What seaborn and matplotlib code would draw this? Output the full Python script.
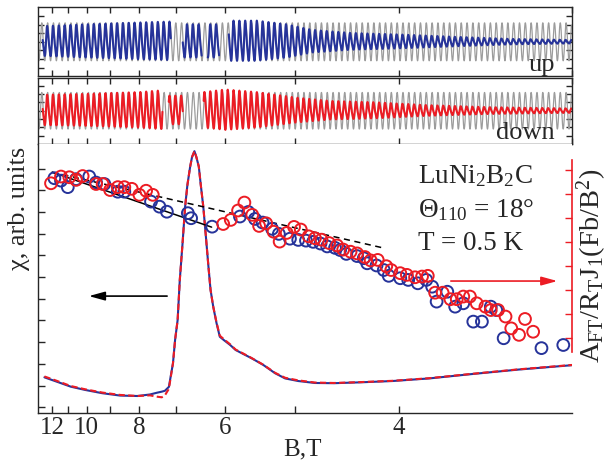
import numpy as np
import matplotlib
matplotlib.use('Agg')
import matplotlib.pyplot as plt
import seaborn as sns

# ---- susceptibility sweeps chi(B), left axis (arb. units) ----
chi_B = [12.55, 11.80, 10.83, 10.08, 9.31, 8.62, 8.04, 7.67, 7.48, 7.35,
         7.27, 7.17, 7.07, 7.02, 6.96, 6.91, 6.85, 6.79, 6.74, 6.68,
         6.64, 6.59, 6.55, 6.50, 6.46, 6.41, 6.36, 6.31, 6.27, 6.22,
         6.16, 6.10, 6.03, 5.92, 5.83, 5.71, 5.58, 5.41, 5.25, 5.12,
         4.96, 4.77, 4.57, 4.32, 4.05, 3.78, 3.51, 3.25, 2.99]
chi_up = [1.38, 1.21, 0.95, 0.80, 0.65, 0.54, 0.52, 0.59, 0.67, 0.72,
          0.76, 0.94, 2.03, 3.10, 4.02, 5.87, 7.48, 9.24, 10.24, 11.09,
          11.53, 11.80, 11.53, 11.09, 10.24, 9.24, 7.89, 6.48, 5.41, 4.64,
          3.89, 3.25, 3.10, 2.87, 2.64, 2.46, 2.26, 1.95, 1.57, 1.33,
          1.21, 1.12, 1.11, 1.15, 1.21, 1.33, 1.53, 1.74, 1.95]
chi_down = [1.42, 1.25, 0.98, 0.83, 0.68, 0.57, 0.52, 0.55, 0.49, 0.46,
            0.55, 0.85, 2.03, 3.10, 4.02, 5.87, 7.48, 9.24, 10.24, 11.09,
            11.53, 11.80, 11.53, 11.09, 10.24, 9.24, 7.89, 6.48, 5.41, 4.64,
            3.92, 3.30, 3.14, 2.90, 2.66, 2.48, 2.27, 1.96, 1.59, 1.36,
            1.24, 1.14, 1.12, 1.16, 1.22, 1.34, 1.54, 1.75, 1.96]

# ---- Fourier amplitudes A_FT/R_T J_1 (right axis) ----
up_amp_B = [11.84, 11.41, 11.00, 10.54, 9.88, 9.57, 9.22, 8.70, 8.47, 7.64,
            7.41, 7.22, 6.73, 6.66, 6.24, 5.76, 5.63, 5.53, 5.42, 5.29,
            5.20, 5.06, 4.96, 4.87, 4.79, 4.71, 4.64, 4.56, 4.51, 4.45,
            4.35, 4.29, 4.26, 4.18, 4.12, 4.08, 3.99, 3.93, 3.86, 3.80,
            3.76, 3.73, 3.66, 3.61, 3.56, 3.50, 3.45, 3.40, 3.37, 3.33,
            3.14, 3.04]
up_amp = [7.64, 7.54, 7.27, 7.60, 7.71, 7.46, 7.40, 7.08, 7.08, 6.67,
          6.46, 6.25, 6.19, 5.98, 5.63, 6.05, 6.24, 5.95, 5.80, 5.54,
          5.33, 5.13, 5.08, 5.05, 5.00, 4.93, 4.81, 4.75, 4.66, 4.50,
          4.41, 4.32, 4.11, 4.02, 3.83, 3.59, 3.49, 3.42, 3.28, 3.42,
          3.14, 2.52, 2.93, 2.31, 2.45, 1.69, 1.69, 2.31, 2.17, 1.00,
          0.59, 0.72]
down_amp_B = [12.07, 11.41, 10.91, 10.54, 10.20, 9.57, 9.29, 8.99, 8.70, 8.47,
              8.22, 7.98, 7.78, 7.59, 6.04, 5.91, 5.79, 5.69, 5.57, 5.47,
              5.37, 5.27, 5.19, 5.10, 5.01, 4.93, 4.84, 4.77, 4.70, 4.62,
              4.54, 4.48, 4.41, 4.35, 4.28, 4.23, 4.17, 4.10, 4.06, 3.99,
              3.94, 3.88, 3.83, 3.79, 3.74, 3.69, 3.64, 3.60, 3.56, 3.52,
              3.48, 3.43, 3.40, 3.36, 3.32, 3.29, 3.25, 3.22, 3.18]
down_amp = [7.43, 7.71, 7.68, 7.57, 7.73, 7.40, 7.40, 7.15, 7.27, 7.27,
            7.20, 6.95, 7.12, 6.95, 5.74, 5.91, 6.30, 6.63, 6.12, 5.66,
            5.77, 5.42, 5.01, 5.37, 5.62, 5.51, 5.23, 5.15, 5.09, 4.95,
            4.85, 4.68, 4.59, 4.52, 4.37, 4.23, 4.25, 3.99, 3.83, 3.70,
            3.63, 3.53, 3.56, 3.59, 2.89, 2.89, 2.62, 2.62, 2.73, 2.73,
            2.45, 2.31, 2.17, 2.17, 1.90, 1.41, 1.14, 1.80, 1.27]

# guide lines (B, amplitude)
fit_solid_B = [12.0, 6.25]
fit_solid_A = [7.89, 5.61]
fit_dash_B = [12.0, 4.11]
fit_dash_A = [7.89, 4.73]

# ---- dHvA oscillation panels ----
dhva_F = 357.0          # T, oscillation frequency (period in 1/B)
ref_amp = 1.1           # amplitude of the grey reference wave
up_env_B = [12.7, 10.0, 8.0, 7.15, 6.84, 6.44, 6.11, 5.94, 5.5, 5.1,
            4.8, 4.4, 4.0, 3.6, 3.3, 3.0]
up_env_A = [0.85, 0.95, 1.05, 1.1, 0.95, 0.95, 0.95, 1.15, 1.15, 0.95,
            0.65, 0.48, 0.4, 0.27, 0.16, 0.1]
up_segments = [(12.68, 7.12), (6.84, 6.44), (6.32, 6.11), (5.94, 2.99)]
dn_env_B = [12.7, 10.0, 8.0, 7.33, 7.17, 6.84, 6.4, 6.0, 5.5, 5.0,
            4.6, 4.2, 3.8, 3.4, 3.0]
dn_env_A = [0.9, 0.95, 1.05, 1.15, 0.85, 0.85, 1.05, 1.2, 1.05, 0.75,
            0.55, 0.48, 0.32, 0.2, 0.13]
dn_segments = [(12.68, 7.33), (7.17, 6.84), (6.40, 2.99)]

tick_B = [12, 11, 10, 9, 8, 7, 6, 5, 4, 3]
tick_lbl = ['12', '', '10', '', '8', '', '6', '', '4', '']

BLUE = '#26339a'
RED = '#ec1c24'
GREY = '#9c9c9c'

sns.set_style('ticks')
plt.rcParams['font.family'] = ['Liberation Serif', 'DejaVu Serif']
plt.rcParams['mathtext.fontset'] = 'custom'
plt.rcParams['mathtext.rm'] = 'Liberation Serif'
plt.rcParams['mathtext.it'] = 'Liberation Serif:italic'
plt.rcParams['mathtext.bf'] = 'Liberation Serif:bold'
plt.rcParams['axes.linewidth'] = 1.0

XLIM = (0.0766, 0.3331)   # in 1/B
inv = lambda b: 1.0 / np.asarray(b, dtype=float)

fig = plt.figure(figsize=(6.13, 4.63), dpi=100)
ax_up = fig.add_axes([0.062, 0.8352, 0.871, 0.149])
ax_dn = fig.add_axes([0.062, 0.689, 0.871, 0.1436])
ax = fig.add_axes([0.062, 0.1086, 0.871, 0.5804])


def osc_panel(axp, env_B, env_A, segments, color, phase, label):
    u = np.linspace(XLIM[0], XLIM[1], 6000)
    sns.lineplot(x=u, y=ref_amp * np.cos(2 * np.pi * dhva_F * u), ax=axp,
                 color=GREY, lw=0.9, estimator=None, sort=False)
    for b_hi, b_lo in segments:
        us = np.linspace(1 / b_hi, 1 / b_lo, 3000)
        env = np.interp(us, inv(env_B), env_A)
        th = 2 * np.pi * dhva_F * us + phase
        y = env * (np.cos(th) + 0.2 * np.cos(2 * th + 1.2)) / 1.05
        sns.lineplot(x=us, y=y, ax=axp, color=color, lw=1.5,
                     estimator=None, sort=False)
    axp.set_xlim(*XLIM)
    axp.set_ylim(-2, 2)
    axp.set_xticks(inv(tick_B))
    axp.set_yticks([-1.5, -1, -0.5, 0, 0.5, 1, 1.5])
    axp.tick_params(direction='in', length=4, width=1, top=True, bottom=True,
                    left=True, right=True, labelbottom=False, labelleft=False)
    axp.text(0.968, 0.08, label, transform=axp.transAxes, ha='right',
             va='baseline', fontsize=19)


osc_panel(ax_up, up_env_B, up_env_A, up_segments, BLUE, 0.3, 'up')
osc_panel(ax_dn, dn_env_B, dn_env_A, dn_segments, RED, 0.3, 'down')

# ---- main panel: chi(B) ----
sns.lineplot(x=inv(chi_B), y=chi_up, ax=ax, color=BLUE, lw=1.5,
             estimator=None, sort=False)
sns.lineplot(x=inv(chi_B), y=chi_down, ax=ax, color=RED, lw=1.5,
             estimator=None, sort=False)
ax.lines[-1].set_dashes([3, 1.6])
ax.set_xlim(*XLIM)
ax.set_ylim(-0.25, 12.13)
ax.set_xticks(inv(tick_B))
ax.set_xticklabels(tick_lbl)
ax.set_yticks(range(0, 12))
ax.set_yticklabels([])
ax.tick_params(axis='x', direction='in', length=5, width=1, labelsize=18, pad=3)
ax.tick_params(axis='y', direction='in', length=5, width=1)
ax.spines['top'].set_visible(False)
ax.spines['right'].set_visible(False)
ax.set_xlabel('')
ax.set_ylabel('')

# ---- right axis: FT amplitudes ----
axr = ax.twinx()
sns.scatterplot(x=inv(up_amp_B), y=up_amp, ax=axr, color=BLUE,
                facecolor='none', edgecolor=BLUE, linewidth=1.4, s=72, zorder=3)
sns.scatterplot(x=inv(down_amp_B), y=down_amp, ax=axr, color=RED,
                facecolor='none', edgecolor=RED, linewidth=1.4, s=72, zorder=4)
sns.lineplot(x=inv(fit_solid_B), y=fit_solid_A, ax=axr, color='black', lw=1.1,
             estimator=None, sort=False)
sns.lineplot(x=inv(fit_dash_B), y=fit_dash_A, ax=axr, color='black', lw=1.1,
             estimator=None, sort=False)
axr.lines[-1].set_dashes([4, 3])
axr.set_xlim(*XLIM)
axr.set_ylim(-2.09, 9.06)
axr.set_yticks(range(1, 9))
axr.set_yticklabels([])
axr.set_ylabel('')
axr.tick_params(axis='y', direction='in', length=5, width=1, colors=RED)
for side in ['left', 'top', 'bottom']:
    axr.spines[side].set_visible(False)
axr.spines['right'].set_color(RED)
axr.spines['right'].set_linewidth(1.2)
axr.spines['right'].set_bounds(0.43, 8.4)

# arrows
ax.annotate('', xy=(0.090, 0.434), xytext=(0.247, 0.434), xycoords='axes fraction',
            arrowprops=dict(arrowstyle='-|>,head_length=0.8,head_width=0.22',
                            color='black', lw=1.2, mutation_scale=12))
ax.annotate('', xy=(0.978, 0.490), xytext=(0.768, 0.490), xycoords='axes fraction',
            arrowprops=dict(arrowstyle='-|>,head_length=0.8,head_width=0.22',
                            color=RED, lw=1.2, mutation_scale=12))

# labels
fig.text(0.682, 0.605, r'LuNi$_2$B$_2$C', fontsize=19.5, va='baseline')
fig.text(0.682, 0.532, r'$\Theta_{110}$ = 18°', fontsize=19.5, va='baseline')
fig.text(0.682, 0.460, 'T = 0.5 K', fontsize=19.5, va='baseline')
fig.text(0.031, 0.549, 'χ, arb. units', fontsize=19, rotation=90,
         ha='center', va='center')
fig.text(0.494, 0.030, 'B,T', fontsize=18, ha='center', va='center')
fig.text(0.966, 0.425, r'$\mathrm{A_{FT}/R_TJ_1(Fb/B^2)}$', fontsize=20.5,
         rotation=90, ha='center', va='center')

fig.savefig('out.png', dpi=100)
